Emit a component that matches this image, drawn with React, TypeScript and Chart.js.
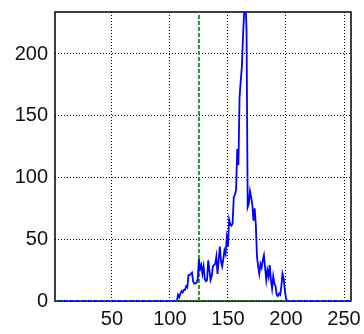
import React, { useEffect, useRef } from 'react';
import { Chart, registerables } from 'chart.js';
Chart.register(...registerables);

const bins = [
  1, 105, 106, 107, 108, 109, 110, 111, 112, 113, 114, 115, 116, 117, 118, 119, 120,
  121, 122, 123, 124, 125, 126, 127, 128, 129, 130, 131, 132, 133, 134, 135, 136,
  137, 138, 139, 140, 141, 142, 143, 144, 145, 146, 147, 148, 149, 150, 151, 152,
  153, 154, 155, 156, 157, 158, 159, 160, 161, 162, 163, 164, 165, 166, 167, 168,
  169, 170, 171, 172, 173, 174, 175, 176, 177, 178, 179, 180, 181, 182, 183, 184,
  185, 186, 187, 188, 189, 190, 191, 192, 193, 194, 195, 196, 197, 198, 199, 200,
  201, 256,
];
const counts = [
  0, 0, 0, 5, 3, 6, 8, 7, 9, 9, 12, 11, 21, 21, 22, 23, 16,
  14, 14, 15, 18, 34, 26, 29, 22, 28, 18, 16, 17, 33, 25, 17, 20,
  28, 29, 30, 36, 22, 33, 44, 32, 28, 34, 41, 38, 51, 44, 66, 62,
  61, 63, 84, 86, 90, 123, 110, 165, 178, 190, 215, 235, 245, 220, 76, 79,
  89, 84, 78, 65, 75, 62, 36, 28, 22, 30, 27, 33, 37, 27, 17, 25,
  20, 29, 17, 10, 20, 14, 12, 5, 4, 6, 5, 12, 22, 18, 9, 2,
  0, 0,
];
const threshold = 125;
const xMin = 1;
const xMax = 256;
const yMin = 0;
const yMax = 234;
const xTickValues = [50, 100, 150, 200, 250];
const yTickValues = [0, 50, 100, 150, 200];

const boxPlugin = {
  id: 'box',
  beforeDatasetsDraw(chart: any) {
    const { ctx, chartArea: a } = chart;
    ctx.save();
    ctx.strokeStyle = '#000';
    ctx.lineWidth = 1.5;
    ctx.strokeRect(a.left, a.top, a.right - a.left, a.bottom - a.top);
    ctx.restore();
  },
};

export default function App() {
  const ref = useRef<HTMLCanvasElement | null>(null);
  useEffect(() => {
    if (!ref.current) return;
    const pts = bins.map((b, i) => ({ x: b, y: counts[i] }));
    const font = { family: 'Liberation Sans, Arial, sans-serif', size: 20 };
    const chart = new Chart(ref.current, {
      type: 'line',
      data: {
        datasets: [
          {
            data: [{ x: xMin, y: 0 }, { x: xMax, y: 0 }],
            borderColor: '#1f8a1f',
            borderWidth: 1.5,
            borderDash: [3, 3],
            pointRadius: 0,
          },
          {
            data: pts,
            borderColor: '#0000ff',
            borderWidth: 1.8,
            pointRadius: 0,
            tension: 0,
          },
          {
            data: [{ x: threshold, y: yMin }, { x: threshold, y: yMax }],
            borderColor: '#1f9a1f',
            borderWidth: 2,
            borderDash: [4, 2],
            pointRadius: 0,
          },
        ],
      },
      options: {
        animation: false,
        responsive: true,
        maintainAspectRatio: false,
        layout: { padding: { top: 12, right: 13, left: 0, bottom: 0 } },
        plugins: { legend: { display: false }, tooltip: { enabled: false } },
        scales: {
          x: {
            type: 'linear',
            min: xMin,
            max: xMax,
            afterBuildTicks: (s: any) => {
              s.ticks = xTickValues.map((v) => ({ value: v }));
            },
            afterFit: (s: any) => {
              s.height = 33;
              s.paddingLeft = 0;
              s.paddingRight = 0;
            },
            grid: { color: '#000', lineWidth: 1, drawTicks: false },
            border: { display: false, dash: [1, 2] },
            ticks: { font, color: '#111', padding: 6, maxRotation: 0, autoSkip: false },
          },
          y: {
            type: 'linear',
            min: yMin,
            max: yMax,
            afterBuildTicks: (s: any) => {
              s.ticks = yTickValues.map((v) => ({ value: v }));
            },
            afterFit: (s: any) => {
              s.width = 55;
              s.paddingTop = 0;
              s.paddingBottom = 0;
            },
            grid: { color: '#000', lineWidth: 1, drawTicks: false },
            border: { display: false, dash: [1, 2] },
            ticks: { font, color: '#111', padding: 7, autoSkip: false },
          },
        },
      },
      plugins: [boxPlugin],
    } as any);
    return () => chart.destroy();
  }, []);
  return (
    <div style={{ position: 'fixed', left: 0, top: 0, width: 364, height: 334, background: '#fff' }}>
      <canvas ref={ref} />
    </div>
  );
}
